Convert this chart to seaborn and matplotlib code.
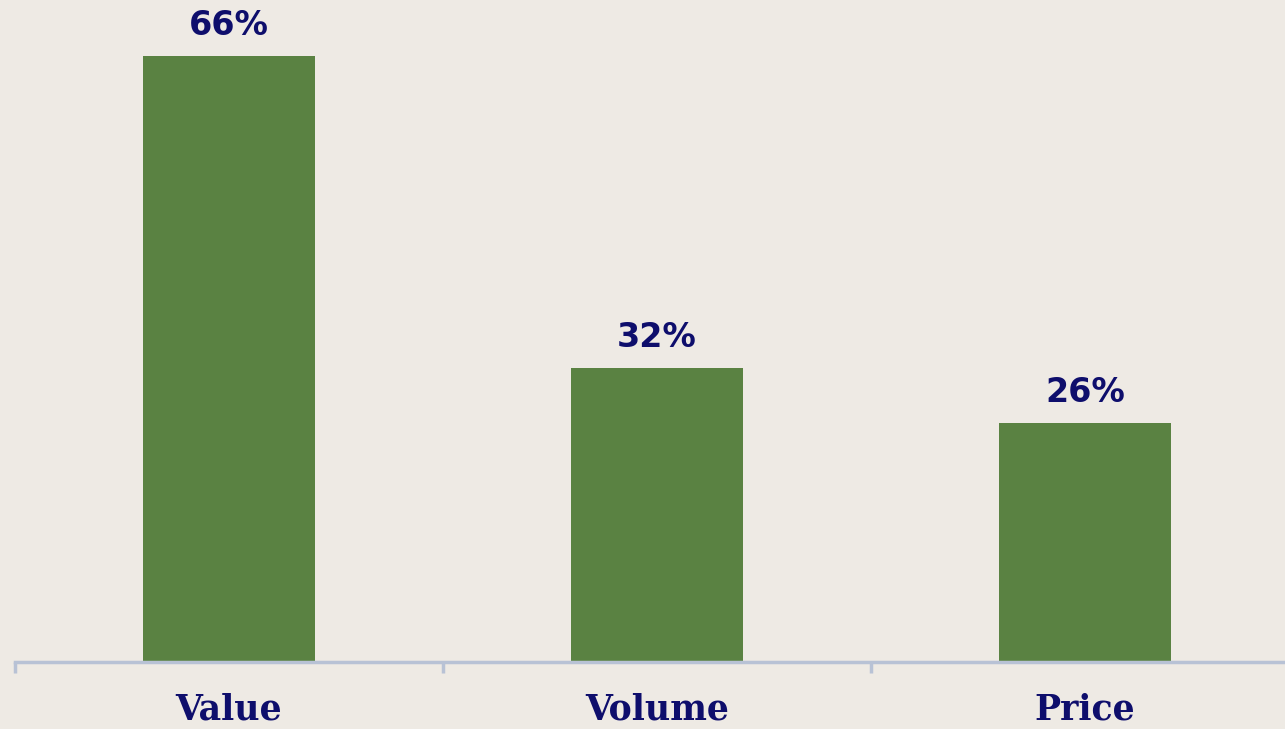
import matplotlib
matplotlib.use("Agg")
import matplotlib.pyplot as plt
import seaborn as sns
import pandas as pd

categories = ["Value", "Volume", "Price"]
shares = [66, 32, 26]
value_labels = ["66%", "32%", "26%"]

bg = "#EEEAE4"
bar_color = "#5A8242"
text_color = "#0E0E6C"
axis_color = "#B8C2D5"

sns.set_theme(style="white")
plt.rcParams["font.family"] = ["DejaVu Sans"]

W, H = 1285, 729
fig = plt.figure(figsize=(W / 100, H / 100), dpi=100, facecolor=bg)
base_px = 662
ax = fig.add_axes([15 / W, (H - base_px) / H, 1284 / W, base_px / H])
ax.set_facecolor(bg)

df = pd.DataFrame({"category": categories, "share": shares})
sns.barplot(data=df, x="category", y="share", color=bar_color, width=0.4,
            saturation=1, ax=ax, zorder=2, linewidth=0, edgecolor="none")

ax.set_xlim(-0.5, 2.5)
ax.set_ylim(0, base_px / 9.18)

for i, (v, lab) in enumerate(zip(shares, value_labels)):
    ax.annotate(lab, (i, v), xytext=(0, 22), textcoords="offset points",
                ha="center", va="center", fontsize=24, fontweight="heavy",
                color=text_color, family="DejaVu Sans")

for s in ["top", "right", "left"]:
    ax.spines[s].set_visible(False)
ax.spines["bottom"].set_color(axis_color)
ax.spines["bottom"].set_linewidth(2.5)
ax.spines["bottom"].set_zorder(3)

ax.set_yticks([])
ax.set_xlabel("")
ax.set_ylabel("")
ax.set_xticks(range(len(categories)))
ax.set_xticklabels(categories, fontsize=25, fontweight="bold",
                   color=text_color, family="DejaVu Serif")
ax.tick_params(axis="x", which="major", length=0, pad=22, bottom=True)
ax.set_xticks([-0.5, 0.5, 1.5, 2.5], minor=True)
ax.tick_params(axis="x", which="minor", length=8, width=2.5,
               color=axis_color, direction="out", bottom=True)

fig.savefig("out.png", dpi=100, facecolor=bg)
